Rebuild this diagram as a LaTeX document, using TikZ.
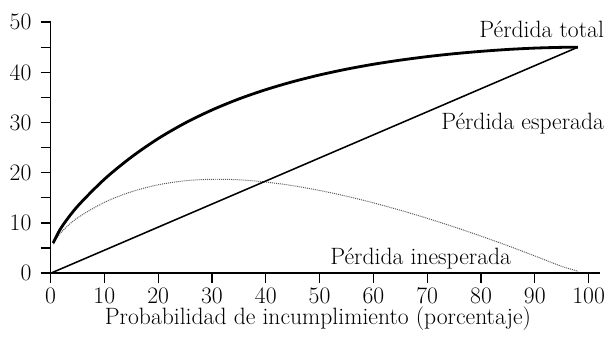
\documentclass[tikz,border=0pt]{standalone}
\usepackage{amsmath}
\usepackage{tikz}

\tikzset{
  txt/.style={font=\fontsize{16.8}{20}\selectfont, inner sep=0pt},
  axisline/.style={line width=0.9pt},
}

\begin{document}
\begin{tikzpicture}[x=0.1345cm,y=0.1255cm]
    \useasboundingbox (-9.39,-12.7) rectangle (103.6,54.4);
    % axes and ticks
    \draw[axisline] (-1.86,0) -- (102.1,0);
    \draw[axisline] (0,-2) -- (0,50) -- (-1.86,50);
    \draw[axisline] (-1.86,5) -- (0,5) (-1.86,10) -- (0,10) (-1.86,15) -- (0,15)
        (-1.86,20) -- (0,20) (-1.86,25) -- (0,25) (-1.86,30) -- (0,30)
        (-1.86,35) -- (0,35) (-1.86,40) -- (0,40) (-1.86,45) -- (0,45);
    \draw[axisline] (10,0) -- (10,-2) (20,0) -- (20,-2) (30,0) -- (30,-2)
        (40,0) -- (40,-2) (50,0) -- (50,-2) (60,0) -- (60,-2) (70,0) -- (70,-2)
        (80,0) -- (80,-2) (90,0) -- (90,-2) (100,0) -- (100,-2);
    % curves
    \draw[line width=0.7pt, black!65, dash pattern=on 0.7pt off 0.7pt]
        plot[smooth] coordinates {(0.5,5.77) (2,8.16) (5,10.99) (10,14.09) (15,16.19)
        (20,17.59) (25,18.39) (30,18.69) (35,18.59) (40,18.14) (45,17.42) (50,16.47)
        (55,15.32) (60,14.0) (65,12.52) (70,10.92) (75,9.2) (80,7.37) (85,5.45)
        (90,3.42) (95,1.35) (98,0.4)};
    \draw[line width=1.1pt] (0.3,0.1) -- (98,45.0);
    \draw[line width=2pt]
        plot[smooth] coordinates {(0.5,6.0) (2,9.08) (5,13.29) (10,18.69) (15,23.09)
        (20,26.79) (25,29.89) (30,32.49) (35,34.69) (40,36.54) (45,38.12) (50,39.47)
        (55,40.62) (60,41.6) (65,42.42) (70,43.12) (75,43.7) (80,44.17) (85,44.55)
        (90,44.82) (95,44.97) (98,45.0)};
    % labels
    \node[txt, anchor=base east] (total) at (102.9,47.0) {Pérdida total};
    \node[txt, anchor=base east] (esperada) at (102.9,28.7) {Pérdida esperada};
    \node[txt, anchor=base] (inesperada) at (68.8,1.8) {Pérdida inesperada};
    \node[txt, anchor=base] (xtitle) at (49.7,-10.3) {Probabilidad de incumplimiento (porcentaje)};
    \node[txt, anchor=base] (x0) at (0,-6) {0};
    \node[txt, anchor=base] (x10) at (10,-6) {10};
    \node[txt, anchor=base] (x20) at (20,-6) {20};
    \node[txt, anchor=base] (x30) at (30,-6) {30};
    \node[txt, anchor=base] (x40) at (40,-6) {40};
    \node[txt, anchor=base] (x50) at (50,-6) {50};
    \node[txt, anchor=base] (x60) at (60,-6) {60};
    \node[txt, anchor=base] (x70) at (70,-6) {70};
    \node[txt, anchor=base] (x80) at (80,-6) {80};
    \node[txt, anchor=base] (x90) at (90,-6) {90};
    \node[txt, anchor=base] (x100) at (100,-6) {100};
    \node[txt, anchor=east] (y0) at (-3.5,0) {0};
    \node[txt, anchor=east] (y10) at (-3.5,10) {10};
    \node[txt, anchor=east] (y20) at (-3.5,20) {20};
    \node[txt, anchor=east] (y30) at (-3.5,30) {30};
    \node[txt, anchor=east] (y40) at (-3.5,40) {40};
    \node[txt, anchor=east] (y50) at (-3.5,50) {50};
\end{tikzpicture}
\end{document}
